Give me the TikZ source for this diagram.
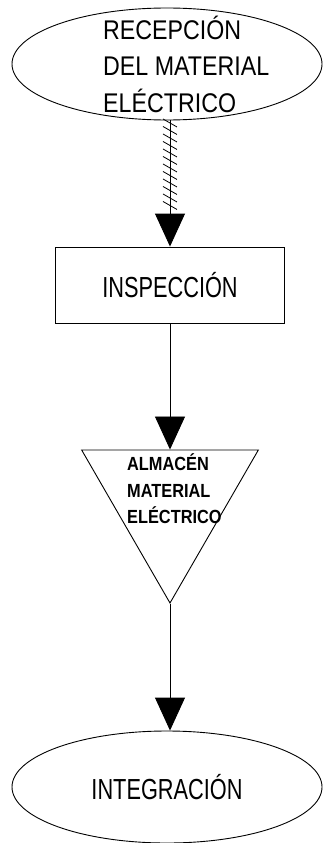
\documentclass[tikz,border=0pt]{standalone}
\usepackage{fontspec}
\setmainfont{Liberation Sans}[FakeStretch=0.75]
\newfontfamily\recfont{Liberation Sans}[FakeStretch=0.86]
\newfontfamily\almfont{Liberation Sans Bold}[FakeStretch=0.86]
\usetikzlibrary{shapes,arrows.meta,decorations.markings}

\begin{document}
\begin{tikzpicture}[x=1pt,y=-1pt,every node/.style={inner sep=0pt},
outline/.style={draw,line width=0.9pt},
flow/.style={line width=0.9pt,-{Triangle[width=30pt,length=33pt]}},
hatched/.style={postaction={decorate},decoration={markings,
mark=between positions 0.02 and 0.72 step 7.5pt with {\draw[-,line width=0.8pt] (-4pt,-7pt) -- (4pt,7pt);}}}]
\useasboundingbox (0,0) rectangle (322,843);
\node[outline,ellipse,minimum width=310pt,minimum height=112pt] (rec) at (167,64) {};
\node[anchor=west,align=left,font=\recfont\fontsize{27}{36.5}\selectfont] (rectxt) at (103,64) {RECEPCIÓN\\DEL MATERIAL\\ELÉCTRICO};
\node[outline,minimum width=229pt,minimum height=76pt,font=\fontsize{29}{34}\selectfont] (insp) at (170,285) {INSPECCIÓN};
\node[outline,regular polygon,regular polygon sides=3,shape border rotate=180,minimum size=204pt] (alm) at (170,501) {};
\node[anchor=west,align=left,font=\almfont\fontsize{19}{26.5}\selectfont] (almtxt) at (127,489) {ALMACÉN\\MATERIAL\\ELÉCTRICO};
\node[outline,ellipse,minimum width=310pt,minimum height=112pt,font=\fontsize{29}{34}\selectfont] (integ) at (167,787) {INTEGRACIÓN};
\draw[flow,hatched] (rec.south -| insp.north) -- (insp.north);
\draw[flow] (insp.south) -- (alm.north);
\draw[flow] (alm.south) -- (integ.north -| alm.south);
\end{tikzpicture}
\end{document}
